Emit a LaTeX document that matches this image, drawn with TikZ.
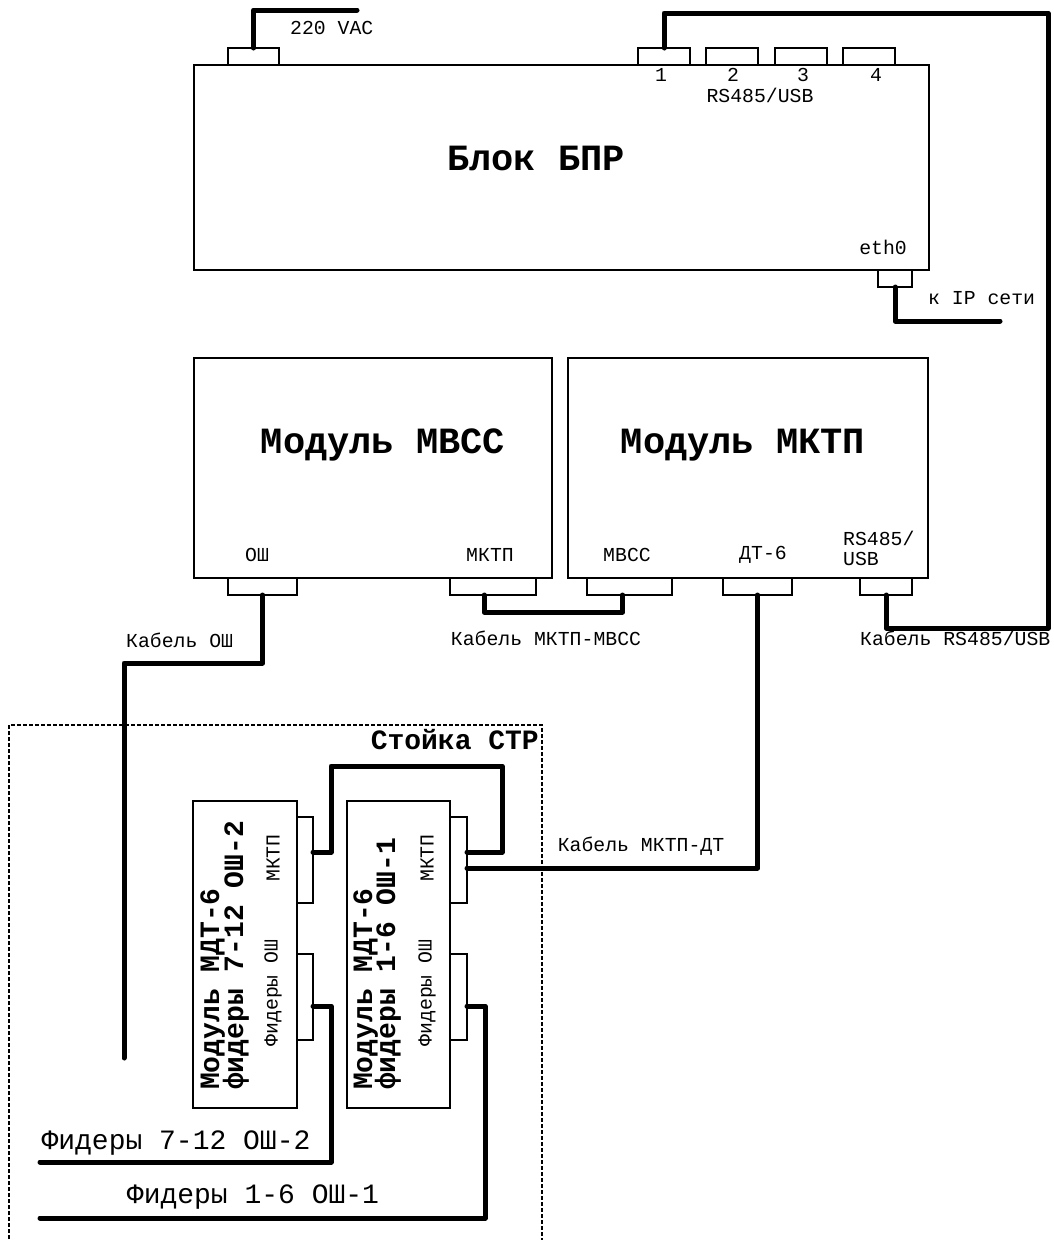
\documentclass[tikz,border=0pt]{standalone}
\usepackage{fontspec}
\setmainfont{Liberation Mono}
\begin{document}
\begin{tikzpicture}[x=1pt,y=-1pt,
  box/.style={draw, line width=1.4pt, inner sep=0pt, outer sep=0pt, anchor=north west},
  cable/.style={line width=5pt, line cap=round, line join=round},
  small/.style={font=\fontsize{19.8}{20}\selectfont, inner sep=0pt},
  mid/.style={font=\fontsize{28}{30}\selectfont, inner sep=0pt},
  midb/.style={font=\fontsize{28}{30}\selectfont\bfseries, inner sep=0pt},
  big/.style={font=\fontsize{37}{40}\selectfont\bfseries, inner sep=0pt},
  rack/.style={dashed, dash pattern=on 4pt off 2pt, line width=1.2pt}]
\useasboundingbox (0,0) rectangle (1053,1240);

% ---------- Блок БПР ----------
\node[box, minimum width=735pt, minimum height=205pt] (bpr) at (194,65) {};
\node[big] (bprt) at (536,158) {Блок БПР};
\node[box, minimum width=51pt, minimum height=17pt] (pw) at (228,48) {};
\node[box, minimum width=52pt, minimum height=17pt] (p1) at (638,48) {};
\node[box, minimum width=52pt, minimum height=17pt] (p2) at (706,48) {};
\node[box, minimum width=52pt, minimum height=17pt] (p3) at (775,48) {};
\node[box, minimum width=52pt, minimum height=17pt] (p4) at (843,48) {};
\node[small] (l1) at (661,75) {1};
\node[small] (l2) at (733,75) {2};
\node[small] (l3) at (803,75) {3};
\node[small] (l4) at (876,75) {4};
\node[small] (lrs) at (760,95) {RS485/USB};
\node[small, anchor=east] (leth) at (907,247) {eth0};
\node[box, minimum width=34pt, minimum height=17pt] (eth) at (878,270) {};
\node[small, anchor=west] (lvac) at (290,28) {220 VAC};
\node[small, anchor=west] (lip) at (928,298) {к IP сети};

% ---------- Модуль МВСС ----------
\node[box, minimum width=358pt, minimum height=220pt] (mvss) at (194,358) {};
\node[big] (mvsst) at (383,445) {Модуль МВСС};
\node[box, minimum width=69pt, minimum height=17pt] (osh) at (228,578) {};
\node[box, minimum width=86pt, minimum height=17pt] (mk1) at (450,578) {};
\node[small] (losh) at (257,555) {ОШ};
\node[small] (lmk1) at (490,555) {МКТП};

% ---------- Модуль МКТП ----------
\node[box, minimum width=360pt, minimum height=220pt] (mktp) at (568,358) {};
\node[big] (mktpt) at (743,445) {Модуль МКТП};
\node[box, minimum width=85pt, minimum height=17pt] (mv) at (587,578) {};
\node[box, minimum width=69pt, minimum height=17pt] (dt) at (723,578) {};
\node[box, minimum width=52pt, minimum height=17pt] (rs) at (860,578) {};
\node[small] (lmv) at (627,555) {МВСС};
\node[small] (ldt) at (763,555) {ДТ-6};
\node[small, align=left, anchor=west] (lrs2) at (843,548) {RS485/\\USB};

% ---------- Стойка СТР ----------
\draw[rack] (9,1245) -- (9,725) -- (542,725) -- (542,1245);
\node[midb, anchor=east] (stoika) at (539,740) {Стойка СТР};

\node[box, minimum width=104pt, minimum height=307pt] (m2) at (193,801) {};
\node[box, minimum width=103pt, minimum height=307pt] (m1) at (347,801) {};
\node[box, minimum width=16pt, minimum height=86pt] (m2k) at (297,817) {};
\node[box, minimum width=17pt, minimum height=86pt] (m1k) at (450,817) {};
\node[box, minimum width=16pt, minimum height=86pt] (m2f) at (297,954) {};
\node[box, minimum width=17pt, minimum height=86pt] (m1f) at (450,954) {};

\node[midb, rotate=90, anchor=base west] (m2ta) at (219,1090) {Модуль МДТ-6};
\node[midb, rotate=90, anchor=base west] (m2tb) at (243,1090) {фидеры 7-12 ОШ-2};
\node[midb, rotate=90, anchor=base west] (m1ta) at (372,1090) {Модуль МДТ-6};
\node[midb, rotate=90, anchor=base west] (m1tb) at (395,1090) {фидеры 1-6 ОШ-1};
\node[small, rotate=90] (m2lk) at (273,858) {МКТП};
\node[small, rotate=90] (m1lk) at (427,858) {МКТП};
\node[small, rotate=90] (m2lf) at (273,993) {Фидеры ОШ};
\node[small, rotate=90] (m1lf) at (427,993) {Фидеры ОШ};

% ---------- cables ----------
\draw[cable] (pw.north) |- (357,10);
\draw[cable] (p1.north) |- (1048,13) -- (1048,628) -| (rs.south);
\draw[cable] (eth.south) |- (1000,321);
\draw[cable] (osh.south) |- (124,663) -- (124,1058);
\draw[cable] ([xshift=-9pt]mk1.south) -- ++(0,17) -| ([xshift=-7pt]mv.south);
\draw[cable] (dt.south) |- ([yshift=-8pt]m1k.east);
\draw[cable] ([yshift=8pt]m2k.east) -- ++(18,0) |- (502,766) |- ([yshift=8pt]m1k.east);
\draw[cable] ([yshift=-9pt]m2f.east) -| (331,1162) -- (40,1162);
\draw[cable] ([yshift=-9pt]m1f.east) -| (485,1218) -- (40,1218);

% ---------- cable labels ----------
\node[small, anchor=west] (cosh) at (126,640) {Кабель ОШ};
\node[small] (cmm) at (546,638) {Кабель МКТП-МВСС};
\node[small, anchor=west] (crs) at (860,638) {Кабель RS485/USB};
\node[small] (cdt) at (641,846) {Кабель МКТП-ДТ};
\node[mid] (f2) at (176,1143) {Фидеры 7-12 ОШ-2};
\node[mid] (f1) at (253,1197) {Фидеры 1-6 ОШ-1};
\end{tikzpicture}
\end{document}
